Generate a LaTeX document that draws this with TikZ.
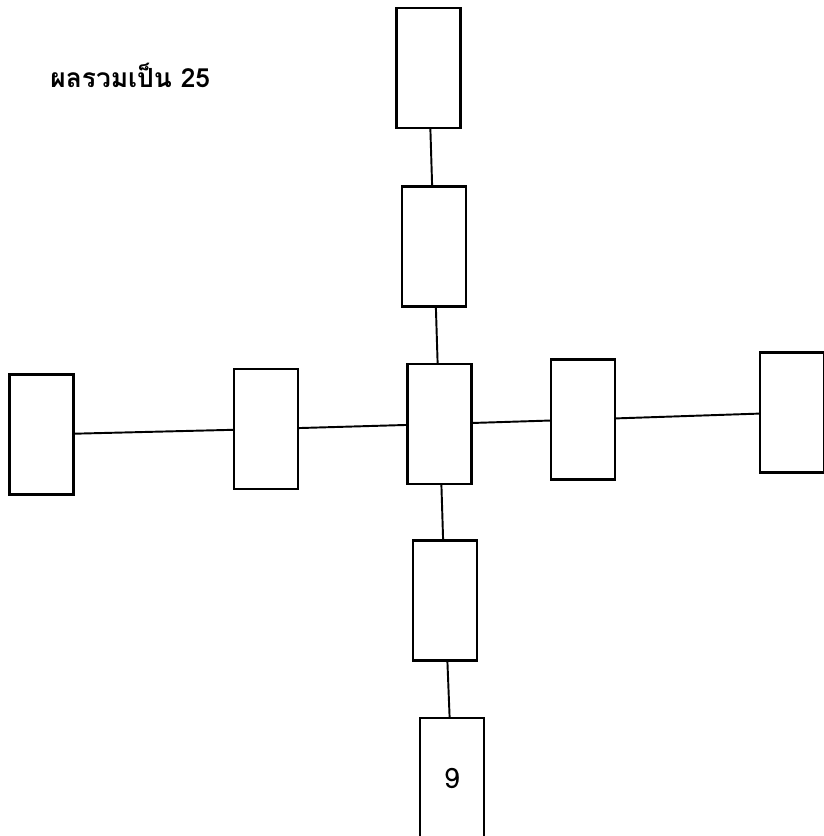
\documentclass[tikz,border=0pt]{standalone}
\usepackage{fontspec}
\newfontfamily\thaifont[Script=Thai]{Loma}
\usetikzlibrary{positioning}
\tikzset{
  cell/.style={draw=black, line width=1.2pt, fill=white, minimum width=1.28cm, minimum height=2.4cm, inner sep=0pt, font=\thaifont\fontsize{16}{18}\selectfont},
  link/.style={draw=black, line width=1.1pt}
}
\begin{document}
\begin{tikzpicture}[x=0.02cm, y=-0.02cm]
\useasboundingbox (0,0) rectangle (823,836);

\node[anchor=west, inner sep=0pt, font=\thaifont\bfseries\fontsize{15}{18}\selectfont] (title) at (50,75) {ผลรวมเป็น 25};

% vertical arm
\node[cell] (up2) at (428.5,68) {};
\node[cell] (up1) at (434,246.5) {};
\node[cell] (mid) at (439.5,424) {};
\node[cell] (down1) at (445,600.5) {};
\node[cell] (down2) at (452,778) {9};

% horizontal arm
\node[cell] (left2) at (41.5,434.5) {};
\node[cell] (left1) at (266,429) {};
\node[cell] (right1) at (583,419.5) {};
\node[cell] (right2) at (792,412.5) {};

\draw[link] (up2) -- (up1);
\draw[link] (up1) -- (mid);
\draw[link] (mid) -- (down1);
\draw[link] (down1) -- (down2);
\draw[link] (left2) -- (left1);
\draw[link] (left1) -- (mid);
\draw[link] (mid) -- (right1);
\draw[link] (right1) -- (right2);
\end{tikzpicture}
\end{document}
